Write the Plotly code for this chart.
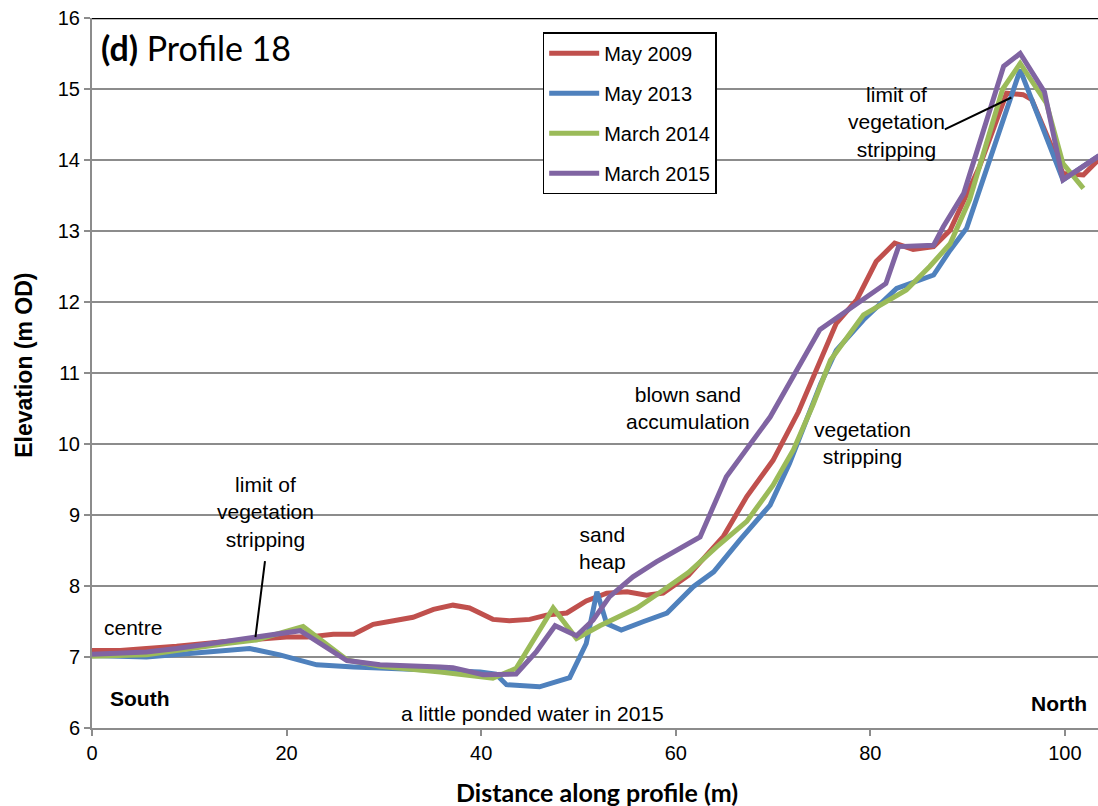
import plotly.graph_objects as go

# ---- data ----
x_2009 = [0, 2.9, 5.6, 8.7, 13.8, 16.9, 20.0, 22.1, 24.8, 26.9, 28.9, 31.0, 33.0, 35.1, 37.1, 38.8,
          41.2, 42.9, 45.0, 46.7, 48.8, 50.8, 52.9, 55.0, 57.0, 58.7, 61.3, 64.9, 67.3, 70.0, 72.6,
          76.5, 78.6, 80.6, 82.5, 84.4, 86.5, 88.2, 91.2, 94.0, 95.7, 96.6, 99.8, 101.9, 104.5]
y_2009 = [7.09, 7.09, 7.12, 7.15, 7.22, 7.25, 7.28, 7.28, 7.32, 7.32, 7.46, 7.51, 7.56, 7.67, 7.73, 7.69,
          7.53, 7.51, 7.53, 7.59, 7.62, 7.79, 7.90, 7.92, 7.87, 7.90, 8.15, 8.70, 9.26, 9.77, 10.45,
          11.70, 12.03, 12.57, 12.83, 12.74, 12.78, 13.01, 13.90, 14.94, 14.92, 14.85, 13.81, 13.79, 14.15]

x_2013 = [0, 5.6, 10.0, 13.8, 16.2, 19.3, 23.1, 26.9, 33.0, 35.8, 39.9, 41.5, 42.6, 46.0, 49.1, 50.8,
          51.9, 52.9, 54.4, 56.7, 59.1, 61.8, 63.9, 66.6, 69.7, 71.7, 73.4, 74.9, 76.5, 79.3, 82.7,
          86.5, 88.2, 89.9, 95.4, 99.8, 103.4, 104.5]
y_2013 = [7.02, 7.00, 7.05, 7.09, 7.12, 7.03, 6.89, 6.86, 6.83, 6.82, 6.79, 6.76, 6.61, 6.58, 6.71, 7.19,
          7.92, 7.47, 7.38, 7.50, 7.62, 7.99, 8.20, 8.65, 9.14, 9.73, 10.34, 10.85, 11.32, 11.75, 12.19,
          12.38, 12.73, 13.04, 15.27, 13.72, 14.05, 14.12]

x_2014 = [0, 5.6, 13.8, 16.9, 21.7, 26.2, 29.6, 35.8, 41.2, 43.6, 47.4, 49.8, 52.2, 56.0, 58.7, 61.3,
          64.2, 67.3, 70.0, 72.1, 74.1, 75.9, 79.3, 83.7, 86.1, 88.2, 90.2, 93.6, 95.4, 98.1, 99.8, 101.9]
y_2014 = [7.01, 7.03, 7.19, 7.24, 7.43, 6.96, 6.87, 6.79, 6.70, 6.84, 7.69, 7.26, 7.44, 7.69, 7.94, 8.19,
          8.55, 8.91, 9.42, 9.92, 10.55, 11.18, 11.82, 12.17, 12.50, 12.82, 13.44, 15.00, 15.36, 14.80, 13.95, 13.60]

x_2015 = [0, 5.6, 8.7, 13.8, 16.9, 21.4, 26.2, 29.6, 35.8, 37.1, 40.2, 43.6, 45.7, 47.6, 49.8, 51.5,
          53.2, 55.6, 58.0, 62.5, 65.2, 67.0, 69.7, 74.8, 78.6, 81.6, 82.9, 86.5, 87.5, 89.6, 93.7,
          95.4, 97.9, 99.8, 103.4, 104.5]
y_2015 = [7.04, 7.07, 7.12, 7.22, 7.27, 7.37, 6.95, 6.89, 6.86, 6.85, 6.75, 6.76, 7.08, 7.44, 7.30, 7.52,
          7.85, 8.13, 8.34, 8.69, 9.54, 9.87, 10.38, 11.61, 11.98, 12.26, 12.78, 12.80, 13.06, 13.53, 15.32,
          15.50, 14.96, 13.72, 14.05, 14.15]

series_names = ["May 2009", "May 2013", "March 2014", "March 2015"]
series_colors = ["#C0504D", "#4F81BD", "#9BBB59", "#8064A2"]

x_ticks = [0, 20, 40, 60, 80, 100]
y_ticks = [6, 7, 8, 9, 10, 11, 12, 13, 14, 15, 16]

FONT = "Liberation Sans, Arial, sans-serif"
TITLEFONT = "Lato, Open Sans, sans-serif"

fig = go.Figure()
for name, color, xs, ys in zip(series_names, series_colors,
                               [x_2009, x_2013, x_2014, x_2015],
                               [y_2009, y_2013, y_2014, y_2015]):
    fig.add_trace(go.Scatter(x=xs, y=ys, mode="lines", name=name, legendgroup=name,
                             line=dict(color=color, width=5)))

axis_common = dict(showline=True, linecolor="#8c8c8c", linewidth=2,
                   ticks="outside", ticklen=6, tickcolor="#8c8c8c", tickwidth=2,
                   tickfont=dict(family=FONT, size=20, color="black"), zeroline=False)

fig.update_xaxes(range=[0, 103.4], tickvals=x_ticks, showgrid=False, **axis_common)
fig.update_yaxes(range=[6, 16], tickvals=y_ticks, showgrid=True, gridcolor="#8c8c8c",
                 gridwidth=1.5, **axis_common)

# top border of plot
fig.add_shape(type="line", xref="paper", yref="y", x0=0, x1=1, y0=16, y1=16,
              line=dict(color="black", width=2.5))

ann_font = dict(family=FONT, size=21, color="black")
texts = [
    ("limit of<br>vegetation<br>stripping", 82.7, 14.54, "center"),
    ("blown sand<br>accumulation", 61.3, 10.51, "center"),
    ("vegetation<br>stripping", 79.2, 10.01, "center"),
    ("sand<br>heap", 52.5, 8.54, "center"),
    ("limit of<br>vegetation<br>stripping", 17.8, 9.04, "center"),
    ("centre", 1.0, 7.41, "left"),
    ("<b>South</b>", 1.6, 6.42, "left"),
    ("<b>North</b>", 99.4, 6.35, "center"),
    ("a little ponded water in 2015", 45.3, 6.21, "center"),
]
for t, x, y, xa in texts:
    fig.add_annotation(text=t, x=x, y=y, xref="x", yref="y", showarrow=False,
                       xanchor=xa, yanchor="middle", font=ann_font)

# leader lines
fig.add_annotation(x=94.5, y=14.88, ax=87.5, ay=14.42, xref="x", yref="y",
                   axref="x", ayref="y", text="", showarrow=True, arrowhead=0,
                   arrowwidth=2, arrowcolor="black")
fig.add_annotation(x=16.8, y=7.28, ax=17.8, ay=8.37, xref="x", yref="y",
                   axref="x", ayref="y", text="", showarrow=True, arrowhead=0,
                   arrowwidth=2, arrowcolor="black")

# panel title
fig.add_annotation(text="<b>(d)</b> Profile 18", x=0.007, y=0.958, xref="paper", yref="paper",
                   xanchor="left", yanchor="middle", showarrow=False,
                   font=dict(family=TITLEFONT, size=34, color="black"))

# axis titles
fig.add_annotation(text="<b>Elevation (m OD)</b>", x=-0.067, y=0.511, xref="paper", yref="paper",
                   textangle=-90, showarrow=False, xanchor="center", yanchor="middle",
                   font=dict(family=FONT, size=23, color="black"))
fig.add_annotation(text="<b>Distance along profile (m)</b>", x=0.502, y=-0.09, xref="paper",
                   yref="paper", showarrow=False, xanchor="center", yanchor="middle",
                   font=dict(family=TITLEFONT, size=25, color="black"))

fig.update_layout(
    width=1098, height=806,
    margin=dict(l=92, r=0, t=18, b=78),
    paper_bgcolor="white", plot_bgcolor="white",
    showlegend=True,
    legend=dict(x=0.448, y=0.98, xanchor="left", yanchor="top",
                bordercolor="black", borderwidth=1.5, bgcolor="white",
                font=dict(family=FONT, size=20, color="black"),
                tracegroupgap=11, traceorder="grouped", itemwidth=50),
)

fig.write_html("out.html",
               config={"displayModeBar": False},
               post_script="document.body.style.margin='0';"
                           "document.documentElement.style.overflow='hidden';")
